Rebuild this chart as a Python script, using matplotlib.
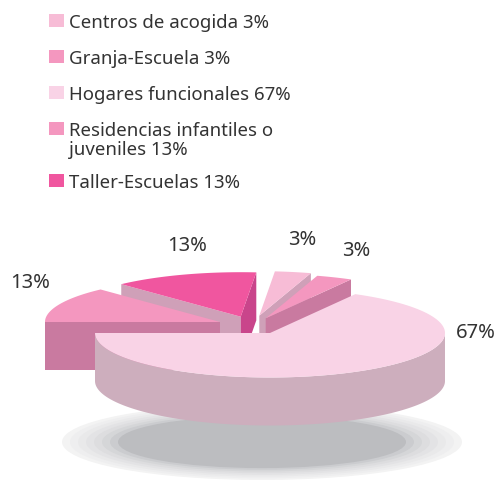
"""
Tarta 3D por tipo de centro, con porciones separadas
"""
import matplotlib
matplotlib.use('Agg')
import matplotlib.pyplot as plt
import matplotlib.patches as mpatches
import numpy as np

# datos
categorias = ['Centros de acogida', 'Granja-Escuela', 'Hogares funcionales',
              'Residencias infantiles o\njuveniles', 'Taller-Escuelas']
valores = [3.33, 3.33, 66.67, 13.0, 13.33]
colores = ['#f7bcd6', '#f497bf', '#f9d3e6', '#f497bf', '#f0569f']

# lienzo en pixeles
fig = plt.figure(figsize=(5.0, 4.81), dpi=100)
ax = fig.add_axes([0, 0, 1, 1])
ax.set_xlim(0, 500)
ax.set_ylim(481, 0)
ax.axis('off')

FUENTE = 'Noto Sans'
TXT = '#333333'
A, B, PROF = 175, 44.5, 48   # semiejes y grosor
INICIO = 180 + sum(valores[:3]) / sum(valores) * 360   # acaba Hogares en 180

# posicion del vertice de cada porcion
vertices = [(259.3, 316.7), (265.7, 319.3), (270, 334), (220, 323), (240.7, 317.7)]
# orden de dibujo, caras laterales (inicio, fin) de cada porcion
orden = [4, 3, 0, 1, 2]
caras = {0: (None, '#cfa0b8'), 1: (None, '#c97aa0'), 2: (None, None),
         3: ('#c97aa0', None), 4: ('#cfa0b8', '#c9458b')}


def borde(v, ang):
    t = np.radians(ang)
    return np.array([v[0] + A*np.cos(t), v[1] - B*np.sin(t)])


def poli(pts, color, z):
    ax.add_patch(plt.Polygon(pts, closed=True, facecolor=color,
                             edgecolor='none', zorder=z))


# angulos de cada porcion, en sentido horario
fracs = np.array(valores) / sum(valores) * 360
fin = INICIO - np.cumsum(fracs)
ini = fin + fracs

# sombra
grises = ['#f3f3f3', '#eeeeef', '#e9e9ea', '#e3e3e5', '#dddddf', '#d5d6d8', '#cbcccf', '#bcbdc0']
for i, g in enumerate(grises):
    ax.add_patch(mpatches.Ellipse((262, 443), 2*(200 - 8*i), 2*(38 - 1.7*i),
                                  facecolor=g, edgecolor='none', zorder=1))

# porciones
z = 2
for i in orden:
    v = vertices[i]
    angs = np.linspace(ini[i], fin[i], 120)
    arco = np.array([borde(v, a) for a in angs])
    if i == 2:
        # lateral curvo de la porcion grande
        frente = np.array([borde(v, a) for a in np.linspace(0, -180, 120)])
        poli(np.vstack([frente, (frente + [0, PROF])[::-1]]), '#cdaebd', z)
    for ang, col in zip((ini[i], fin[i]), caras[i]):
        if col:
            p = borde(v, ang)
            poli([v, p, p + [0, PROF], np.array(v) + [0, PROF]], col, z)
    poli(np.vstack([[v], arco]), colores[i], z + 1)
    z += 2

# etiquetas de porcentaje
pos_etq = [(302, 240), (356, 251), (476, 333.5), (30, 283), (187, 246)]
for val, (x, y) in zip(valores, pos_etq):
    ax.text(x, y, f'{val:.0f}%', ha='center', va='center', fontsize=14.5,
            color=TXT, family=FUENTE, zorder=30)

# leyenda
ley_y = [21.5, 57.5, 93.5, 129.5, 181.5]
for nombre, val, col, y in zip(categorias, valores, colores, ley_y):
    ax.add_patch(mpatches.Rectangle((49, y - 6.5), 15, 13, facecolor=col,
                                    edgecolor='none', zorder=30))
    lineas = f'{nombre} {val:.0f}%'.split('\n')
    for j, linea in enumerate(lineas):
        ax.text(69, y + 1.5 + j*19, linea, ha='left', va='center', fontsize=13.4,
                color=TXT, family=FUENTE, zorder=30)

plt.savefig('out.png', dpi=100)
plt.close()
